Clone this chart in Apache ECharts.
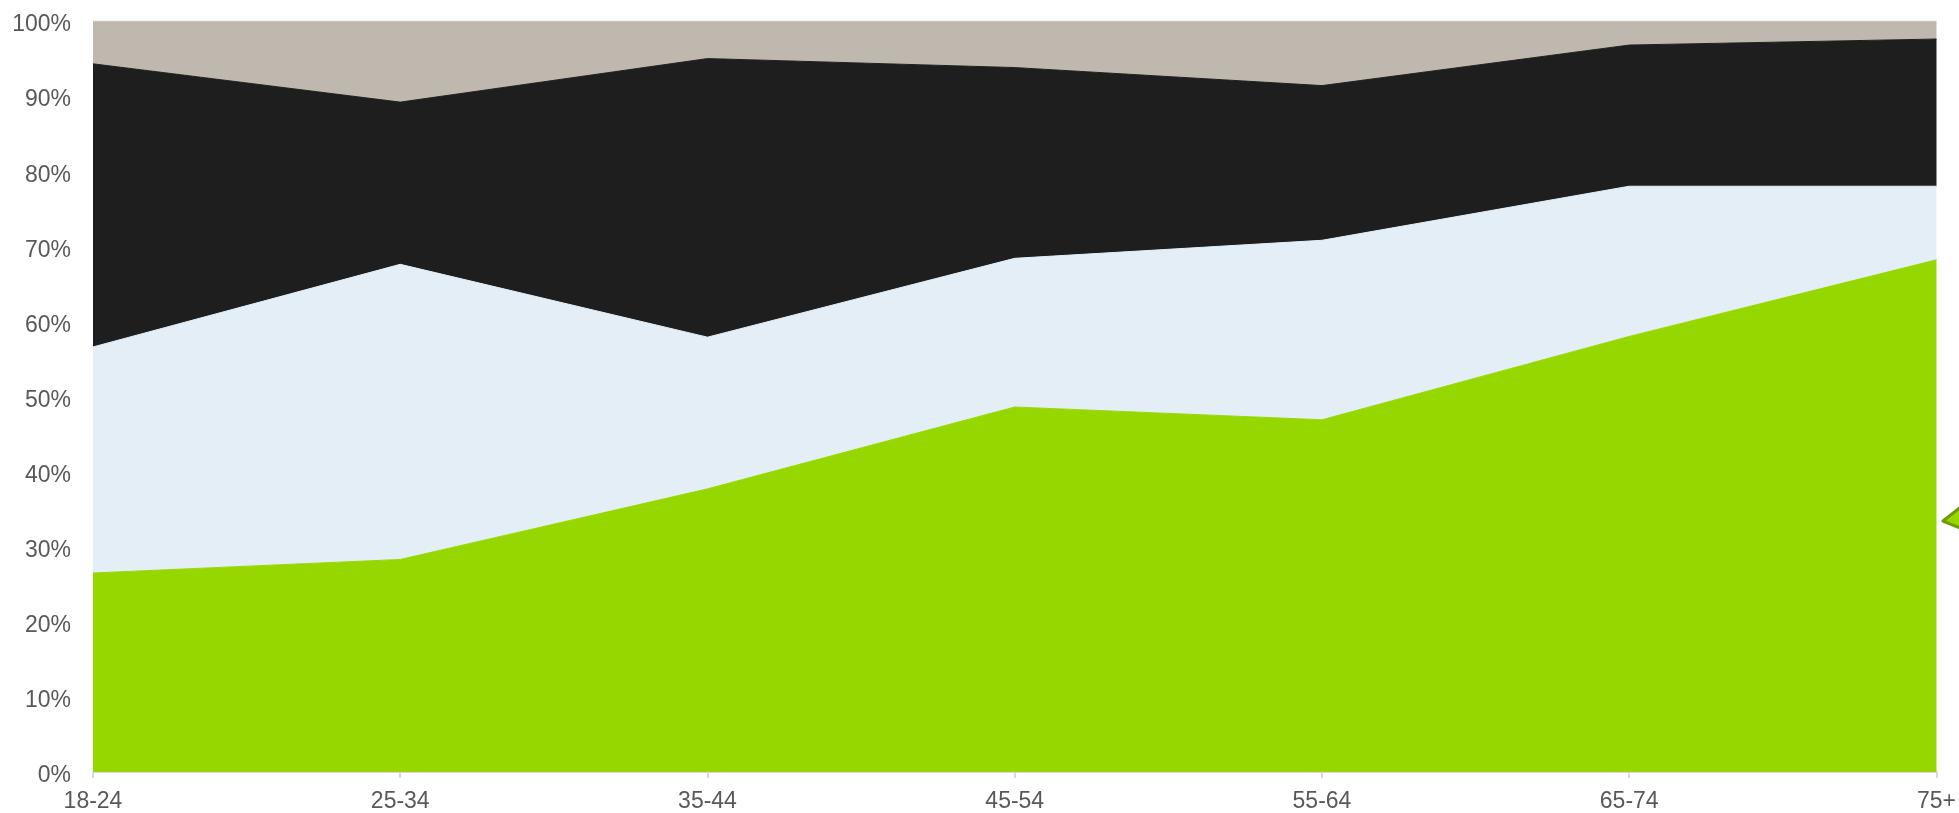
<!DOCTYPE html>
<html>
<head>
<meta charset="utf-8">
<script src="https://cdn.jsdelivr.net/npm/echarts@6/dist/echarts.min.js"></script>
<style>
html,body{margin:0;padding:0;background:#fff;}
#chart{width:1959px;height:813px;}
</style>
</head>
<body>
<div id="chart"></div>
<script>
const categories = ['18-24','25-34','35-44','45-54','55-64','65-74','75+'];
const seriesGreen = [26.5, 28.3, 37.7, 48.6, 46.9, 58.0, 68.2];
const seriesBlue  = [30.1, 39.3, 20.2, 19.8, 23.9, 20.0, 9.8];
const seriesBlack = [37.7, 21.6, 37.1, 25.4, 20.6, 18.8, 19.6];
const seriesGrey  = [5.7, 10.8, 5.0, 6.2, 8.6, 3.2, 2.4];
const yTicks = [0,10,20,30,40,50,60,70,80,90,100];

const chart = echarts.init(document.getElementById('chart'), null, {renderer:'canvas'});
function areaSeries(name, data, color, lineColor){
  return {
    name: name, type: 'line', stack: 'total', data: data,
    showSymbol: false, symbol: 'none',
    lineStyle: {width: 1, color: lineColor},
    itemStyle: {color: color},
    areaStyle: {color: color, opacity: 1},
    emphasis: {disabled: true}
  };
}
chart.setOption({
  animation: false,
  grid: {left: 93, right: 22, top: 21, bottom: 40},
  xAxis: {
    type: 'category', data: categories, boundaryGap: false,
    axisLine: {show: true, lineStyle: {color: '#d9d9d9', width: 2}},
    axisTick: {show: true, alignWithLabel: true, length: 6, lineStyle: {color: '#d9d9d9', width: 2}},
    axisLabel: {color: '#595959', fontSize: 23, fontFamily: 'Liberation Sans, Arial, sans-serif', margin: 18},
    splitLine: {show: false}
  },
  yAxis: {
    type: 'value', min: yTicks[0], max: yTicks[yTicks.length-1], interval: 10,
    axisLine: {show: false}, axisTick: {show: false}, splitLine: {show: false},
    axisLabel: {color: '#595959', fontSize: 23, fontFamily: 'Liberation Sans, Arial, sans-serif', margin: 22,
      formatter: function(v){ return '{v|' + v + '%}'; },
      rich: {v: {color: '#595959', fontSize: 23, fontFamily: 'Liberation Sans, Arial, sans-serif', padding: [8, 0, 0, 0]}}
    }
  },
  series: [
    areaSeries('Green', seriesGreen, '#97d700', '#97d700'),
    areaSeries('Blue', seriesBlue, '#e3eef7', '#e3eef7'),
    areaSeries('Black', seriesBlack, '#1e1e1e', '#1e1e1e'),
    areaSeries('Grey', seriesGrey, '#bfb8ae', '#d6d2cc')
  ],
  graphic: [{
    type: 'polygon',
    shape: {points: [[1943, 521], [1962, 506], [1962, 529]]},
    style: {fill: '#97d700', stroke: '#6e9c00', lineWidth: 3, lineJoin: 'round'},
    z: 100
  }]
});
</script>
</body>
</html>
